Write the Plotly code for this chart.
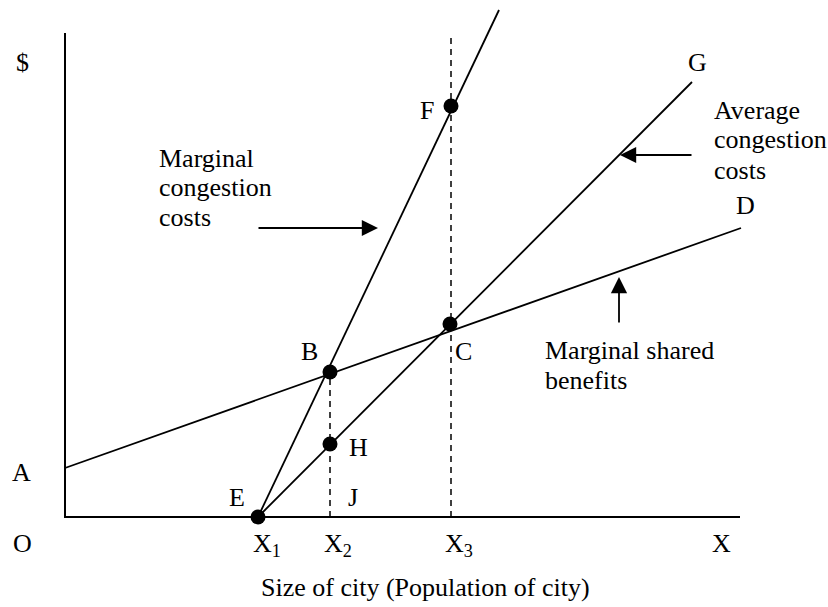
import plotly.graph_objects as go

# Diagram coordinates (origin O at lower-left corner of the axes)
axis_x_end = 675
axis_y_end = 484

# Curves: endpoints
msb_x = [0, 676]          # Marginal shared benefits (A -> D)
msb_y = [49, 289]
acc_x = [193, 627]        # Average congestion costs (E -> G)
acc_y = [0, 435]
mcc_x = [193, 434]        # Marginal congestion costs (E -> beyond F)
mcc_y = [0, 507]

# Dashed guide lines
x2_val, x2_top = 265, 145
x3_val, x3_top = 386, 484

# Points
pt_names = ["E", "B", "H", "C", "F"]
pt_x = [193, 265, 265, 385, 386]
pt_y = [0, 145, 73, 193, 411]

# Text labels: (text, x, y, xanchor)
labels = [
    ("$", -43, 455, "center"),
    ("G", 632, 455, "center"),
    ("F", 362, 407, "center"),
    ("D", 680, 312, "center"),
    ("B", 244, 166, "center"),
    ("C", 398, 166, "center"),
    ("H", 293, 70, "center"),
    ("E", 172, 20, "center"),
    ("J", 288, 20, "center"),
    ("A", -44, 45, "center"),
    ("O", -43, -26, "center"),
    ("X<sub>1</sub>", 202, -28, "center"),
    ("X<sub>2</sub>", 273, -28, "center"),
    ("X<sub>3</sub>", 394, -28, "center"),
    ("X", 656, -26, "center"),
    ("Marginal", 92, 359, "left"),
    ("congestion", 92, 330, "left"),
    ("costs", 92, 300, "left"),
    ("Average", 647, 407, "left"),
    ("congestion", 647, 378, "left"),
    ("costs", 647, 347, "left"),
    ("Marginal shared", 478, 167, "left"),
    ("benefits", 478, 137, "left"),
    ("Size of city (Population of city)", 360, -70, "center"),
]

# Arrows: (tail x, tail y, head x, head y)
arrows = [
    (192, 289, 313, 289),
    (628, 362, 555, 362),
    (554, 193, 554, 240),
]

FONT = "Liberation Serif, Times New Roman, serif"
black = "#000000"

fig = go.Figure()

# Axes
fig.add_trace(go.Scatter(x=[0, 0, axis_x_end], y=[axis_y_end, 0, 0], mode="lines",
                         line=dict(color=black, width=2), hoverinfo="skip"))
# Curves
for xs, ys in [(msb_x, msb_y), (acc_x, acc_y), (mcc_x, mcc_y)]:
    fig.add_trace(go.Scatter(x=xs, y=ys, mode="lines",
                             line=dict(color=black, width=1.8), hoverinfo="skip"))
# Dashed lines
for xv, top in [(x2_val, x2_top), (x3_val, x3_top)]:
    fig.add_trace(go.Scatter(x=[xv, xv], y=[0, top], mode="lines",
                             line=dict(color=black, width=1.5, dash="6px,5px"),
                             hoverinfo="skip"))
# Points
fig.add_trace(go.Scatter(x=pt_x, y=pt_y, mode="markers", text=pt_names,
                         marker=dict(color=black, size=15), hoverinfo="text"))

annotations = []
for text, x, y, xa in labels:
    annotations.append(dict(text=text, x=x, y=y, xref="x", yref="y",
                            xanchor=xa, yanchor="middle", showarrow=False,
                            font=dict(family=FONT, size=26, color=black)))
for tx, ty, hx, hy in arrows:
    annotations.append(dict(text="", x=hx, y=hy, ax=tx, ay=ty, xref="x", yref="y",
                            axref="x", ayref="y", showarrow=True, arrowhead=2,
                            arrowsize=1.8, arrowwidth=1.8, arrowcolor=black))

fig.update_layout(
    width=828, height=607,
    margin=dict(l=0, r=0, t=0, b=0),
    paper_bgcolor="white", plot_bgcolor="white",
    showlegend=False,
    xaxis=dict(range=[-65, 763], visible=False, fixedrange=True),
    yaxis=dict(range=[-90, 517], visible=False, fixedrange=True),
    annotations=annotations,
)

fig.write_html("out.html",
               config={"displayModeBar": False},
               post_script="document.body.style.margin='0';document.body.style.overflow='hidden';")
